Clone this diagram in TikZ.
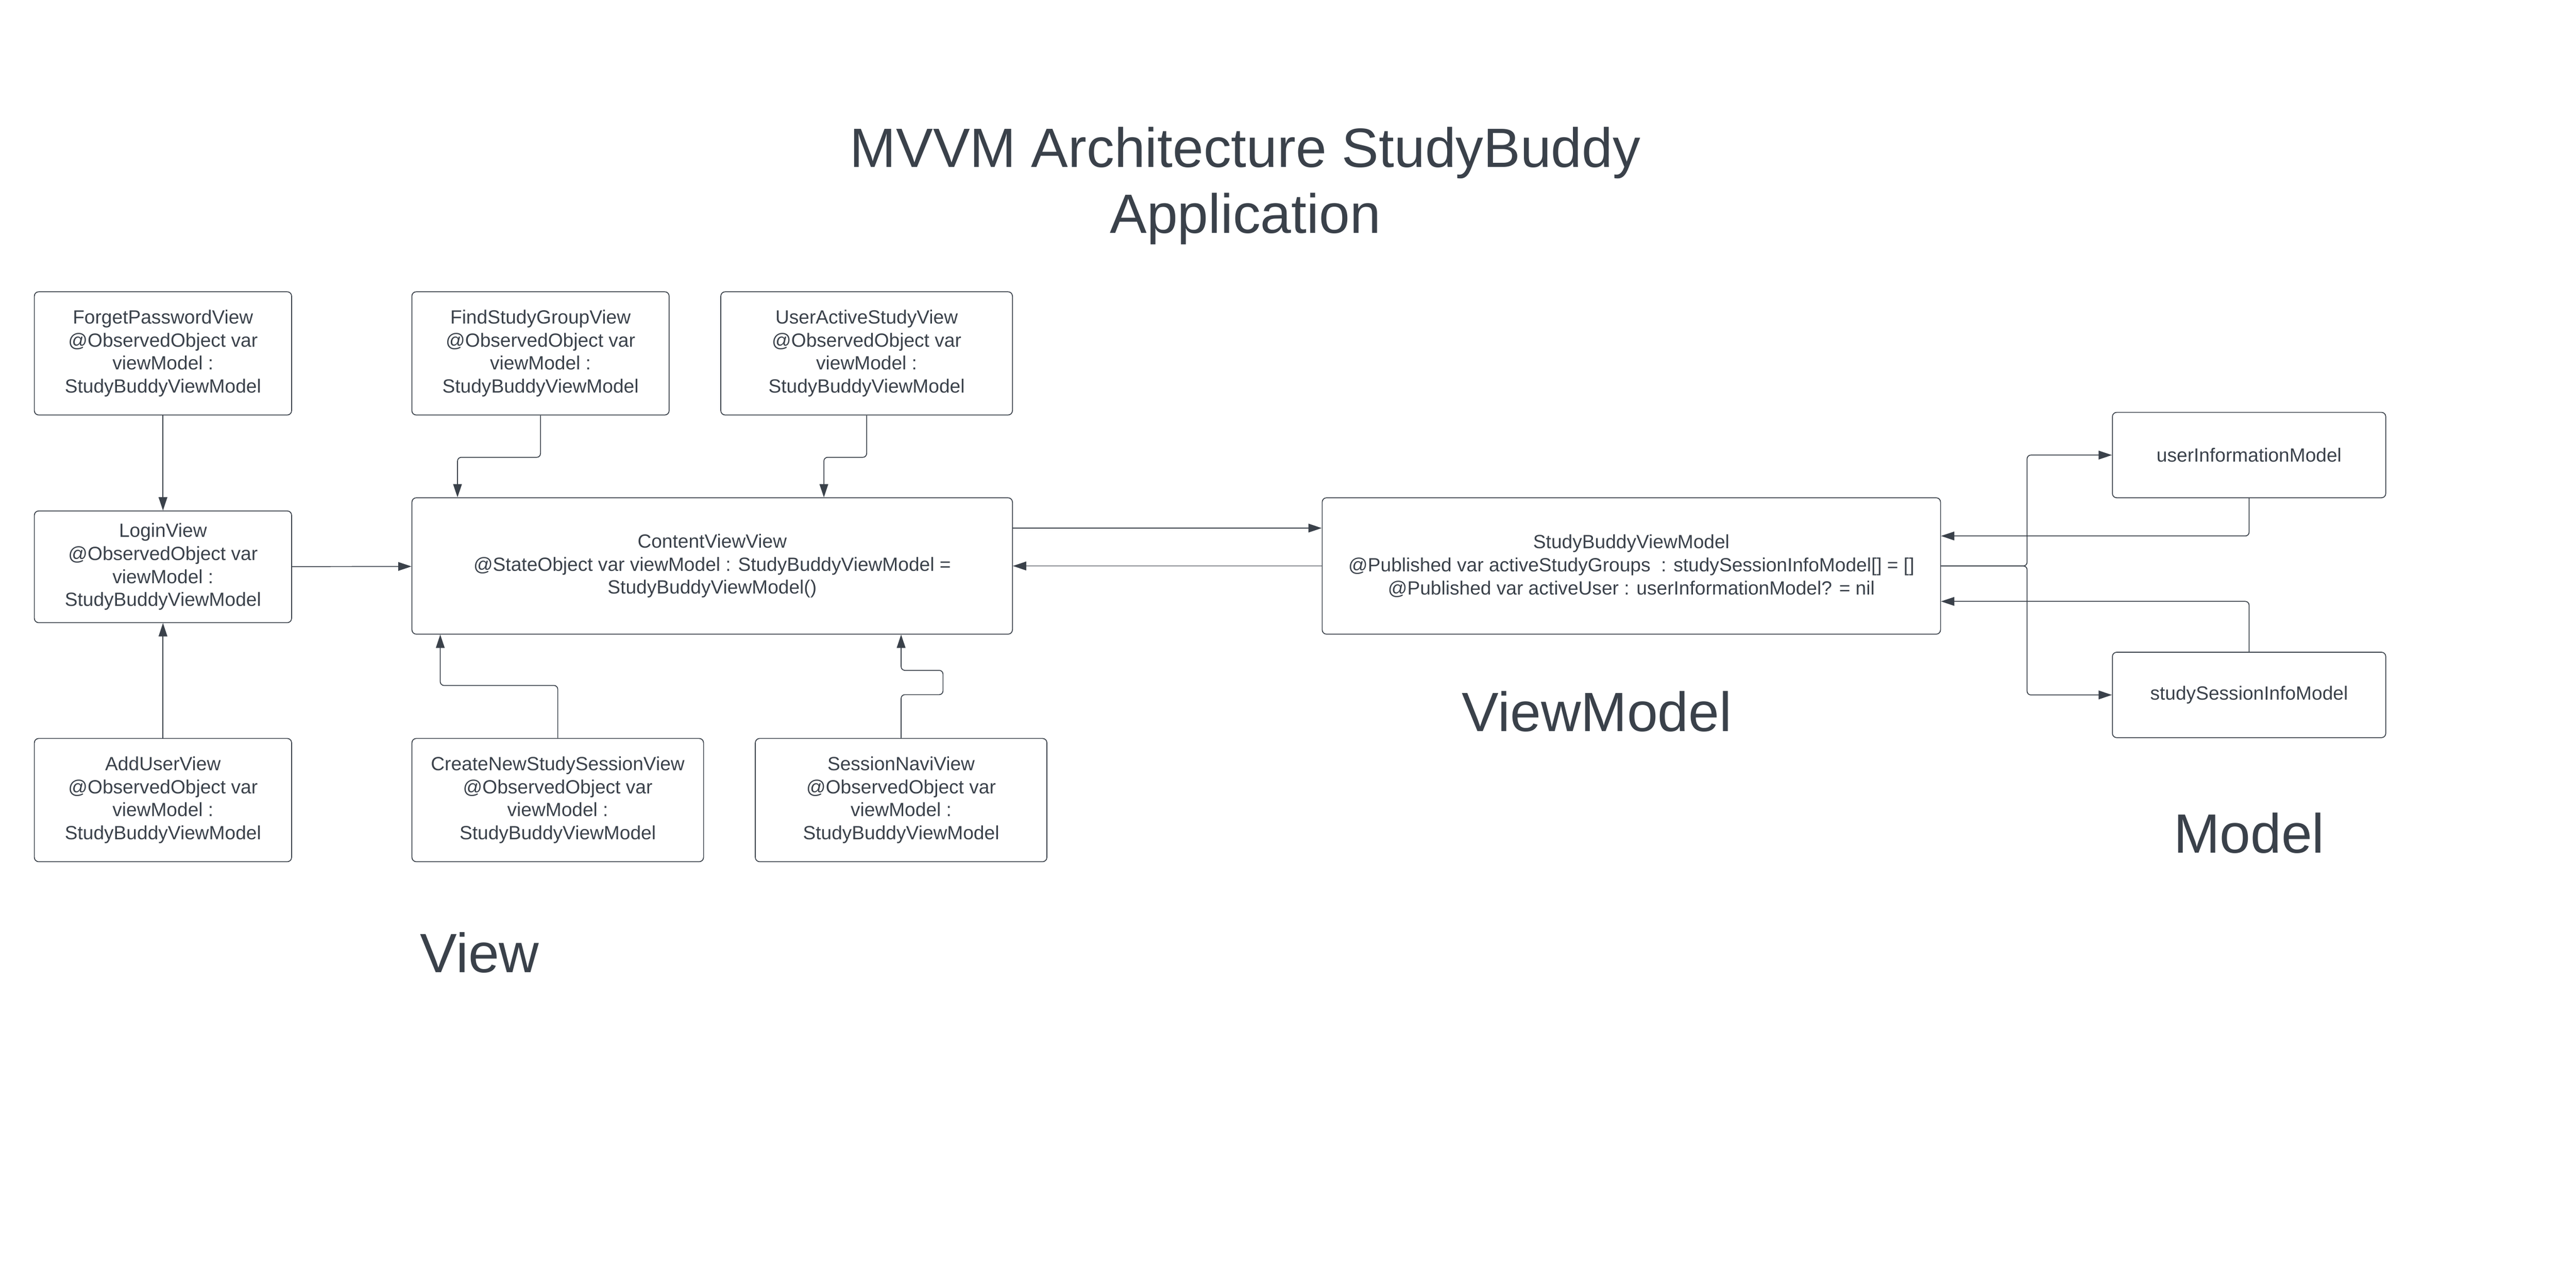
\documentclass[tikz,border=0pt]{standalone}
\usepackage{fontspec}
\setmainfont{Liberation Sans}
\usetikzlibrary{arrows.meta}
\definecolor{ink}{HTML}{3A414A}
\begin{document}
\begin{tikzpicture}[x=0.01993cm,y=-0.01993cm,
  box/.style={draw=ink,line width=0.3pt,rounded corners=1.5pt,align=center,text=ink,inner sep=0pt,
    font=\fontsize{6.6}{7.97}\selectfont},
  size/.style 2 args={minimum width=#1*0.01993cm,minimum height=#2*0.01993cm},
  big/.style={text=ink,align=center,font=\fontsize{19.1}{22.8}\selectfont},
  link/.style={draw=ink,line width=0.3pt,rounded corners=1.3pt,-{Triangle[length=4.6pt,width=3pt]}}]
\useasboundingbox (0,0) rectangle (1568,784);
%title
\node[big] (title) at (758,113) {MVVM Architecture StudyBuddy\\Application};
%view
\node[box,size={156.6}{75}] (forget) at (99.2,215.1)
  {ForgetPasswordView\\@ObservedObject var\\viewModel :\\StudyBuddyViewModel};
\node[box,size={156.6}{75}] (findgroup) at (329,215.1)
  {FindStudyGroupView\\@ObservedObject var\\viewModel :\\StudyBuddyViewModel};
\node[box,size={177.5}{75}] (useractive) at (527.5,215.1)
  {UserActiveStudyView\\@ObservedObject var\\viewModel :\\StudyBuddyViewModel};
\node[box,size={156.6}{68}] (login) at (99.2,345)
  {LoginView\\@ObservedObject var\\viewModel :\\StudyBuddyViewModel};
\node[box,size={365.5}{83}] (content) at (433.5,344.5)
  {ContentViewView\\@StateObject var viewModel : StudyBuddyViewModel =\\StudyBuddyViewModel()};
\node[box,size={156.6}{75}] (adduser) at (99.2,487)
  {AddUserView\\@ObservedObject var\\viewModel :\\StudyBuddyViewModel};
\node[box,size={177.5}{75}] (createnew) at (339.5,487)
  {CreateNewStudySessionView\\@ObservedObject var\\viewModel :\\StudyBuddyViewModel};
\node[box,size={177.5}{75}] (sessionnavi) at (548.5,487)
  {SessionNaviView\\@ObservedObject var\\viewModel :\\StudyBuddyViewModel};
\node[big] (viewlabel) at (292,580) {View};
%viewmodel
\node[box,size={376.4}{83}] (vm) at (993,344.5)
  {StudyBuddyViewModel\\@Published var activeStudyGroups~ : studySessionInfoModel[] = []\\@Published var activeUser : userInformationModel? = nil};
\node[big] (vmlabel) at (972,433) {ViewModel};
%model
\node[box,size={166.4}{52}] (userinfo) at (1369,277) {userInformationModel};
\node[box,size={166.4}{52}] (sessioninfo) at (1369,423) {studySessionInfoModel};
\node[big] (modellabel) at (1369,507) {Model};
%links
\draw[link] (forget) -- (login);
\draw[link] (adduser) -- (login);
\draw[link] (login) -- (content);
\draw[link] (findgroup.south) -- ++(0,25.5) -| ([xshift=28*0.01993cm]content.north west);
\draw[link] (useractive.south) -- ++(0,25.5) -| ([xshift=251*0.01993cm]content.north west);
\draw[link] (createnew.north) -- ++(0,-32) -| ([xshift=17.5*0.01993cm]content.south west);
\draw[link] (sessionnavi.north) -- ++(0,-26.4) -- ++(25.5,0) -- ++(0,-14.8) -- ++(-25.5,0)
  -- (sessionnavi.north |- content.south);
%
\draw[link] ([yshift=-18.7*0.01993cm]content.north east) -- ([yshift=-18.7*0.01993cm]vm.north west);
\draw[link] (vm.west) -- (content.east);
\draw[link] (vm.east) -- ++(52.4,0) |- (userinfo.west);
\draw[link] (vm.east) -- ++(52.4,0) |- (sessioninfo.west);
\draw[link] (userinfo.south) |- ([yshift=-23.5*0.01993cm]vm.north east);
\draw[link] (sessioninfo.north) |- ([yshift=20.2*0.01993cm]vm.south east);
\end{tikzpicture}
\end{document}
